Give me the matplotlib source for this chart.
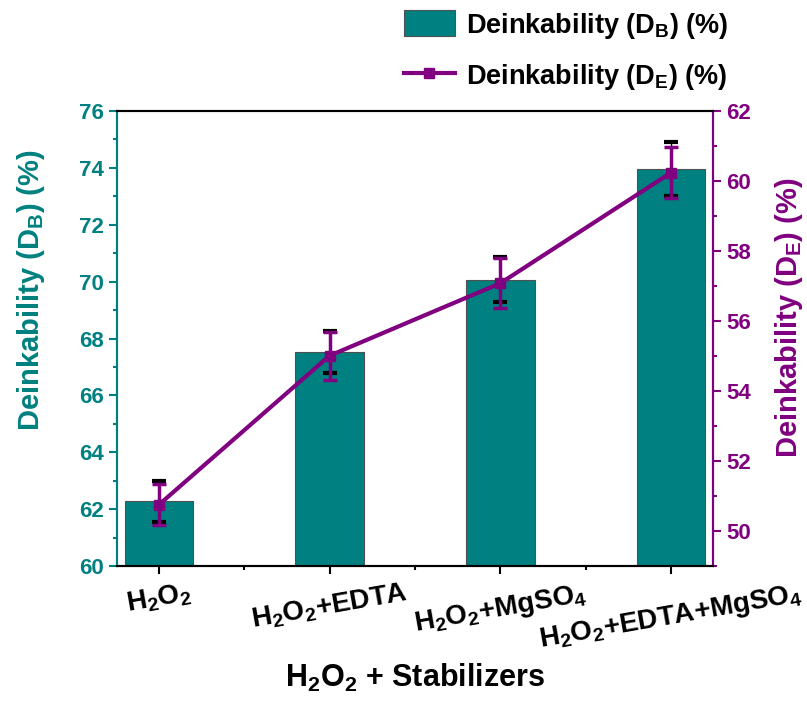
import matplotlib
matplotlib.use("Agg")
import matplotlib.pyplot as plt
from matplotlib.lines import Line2D
from matplotlib.ticker import MultipleLocator

plt.rcParams['font.family'] = 'Liberation Sans'
plt.rcParams['font.weight'] = 'bold'
plt.rcParams['mathtext.fontset'] = 'custom'
plt.rcParams['mathtext.rm'] = 'Liberation Sans:bold'
plt.rcParams['mathtext.bf'] = 'Liberation Sans:bold'
plt.rcParams['mathtext.it'] = 'Liberation Sans:bold'

categories = ['H$_2$O$_2$', 'H$_2$O$_2$+EDTA', 'H$_2$O$_2$+MgSO$_4$', 'H$_2$O$_2$+EDTA+MgSO$_4$']
db_values = [62.28, 67.53, 70.07, 73.95]
db_errors = [0.72, 0.75, 0.80, 0.95]
de_values = [50.75, 55.01, 57.08, 60.24]
de_errors = [0.58, 0.69, 0.72, 0.74]

teal = '#008080'
purple = '#800080'

fig = plt.figure(figsize=(8.07, 7.02), dpi=100)
ax = fig.add_axes([0.145, 0.1937, 0.7385, 0.6482])
ax2 = ax.twinx()

x = list(range(len(categories)))
bars = ax.bar(x, db_values, width=0.4, color=teal, edgecolor='#505050', linewidth=0.8, zorder=2)
ax.errorbar(x, db_values, yerr=db_errors, fmt='none', ecolor='black', elinewidth=1,
            capsize=5, capthick=3, zorder=3)

ax2.errorbar(x, de_values, yerr=de_errors, color=purple, lw=3, marker='s', ms=7,
             capsize=5, capthick=2.5, elinewidth=2.5, zorder=4)

ax.set_xlim(-0.245, 3.245)
ax.set_ylim(60, 76)
ax2.set_ylim(49, 62)

ax.set_xticks(x)
ax.set_xticklabels(categories, fontsize=20, fontweight='bold', rotation=10)
ax.xaxis.set_minor_locator(MultipleLocator(0.5))
ax.yaxis.set_major_locator(MultipleLocator(2))
ax.yaxis.set_minor_locator(MultipleLocator(1))
ax2.yaxis.set_major_locator(MultipleLocator(2))
ax2.yaxis.set_minor_locator(MultipleLocator(1))

ax.tick_params(axis='x', which='major', length=6, width=1.5, colors='black', pad=4)
ax.tick_params(axis='x', which='minor', length=3, width=1.5)
ax.tick_params(axis='y', which='major', length=6, width=1.5, colors=teal, labelsize=16)
ax.tick_params(axis='y', which='minor', length=3, width=1.5, colors=teal)
ax2.tick_params(axis='y', which='major', length=6, width=1.5, colors=purple, labelsize=16)
ax2.tick_params(axis='y', which='minor', length=3, width=1.5, colors=purple)
for lab in ax.get_yticklabels() + ax2.get_yticklabels():
    lab.set_fontweight('bold')

for a in (ax, ax2):
    a.spines['top'].set_color('black')
    a.spines['bottom'].set_color('black')
    a.spines['left'].set_color(teal)
    a.spines['right'].set_color(purple)
    for s in a.spines.values():
        s.set_linewidth(1.5)

ax.set_ylabel('Deinkability (D$_\\mathregular{B}$) (%)', fontsize=21, fontweight='bold', color=teal)
ax.yaxis.set_label_coords(-0.117, 0.607)
ax2.set_ylabel('Deinkability (D$_\\mathregular{E}$) (%)', fontsize=21, fontweight='bold', color=purple)
ax2.yaxis.set_label_coords(1.10, 0.545)
ax.set_xlabel('H$_2$O$_2$ + Stabilizers', fontsize=22, fontweight='bold')
ax.xaxis.set_label_coords(0.5, -0.21)

bar_handle = plt.Rectangle((0, 0), 1, 1, facecolor=teal, edgecolor='#505050', linewidth=0.8)
line_handle = Line2D([], [], color=purple, lw=3, marker='s', ms=7)
fig.legend([bar_handle, line_handle],
           ['Deinkability (D$_\\mathregular{B}$) (%)', 'Deinkability (D$_\\mathregular{E}$) (%)'],
           loc='upper left', bbox_to_anchor=(0.47, 1.02), frameon=False,
           prop={'size': 19.5, 'weight': 'bold'}, handlelength=1.9, handleheight=1.1,
           labelspacing=0.8, handletextpad=0.4)

fig.savefig('out.png', dpi=100)
